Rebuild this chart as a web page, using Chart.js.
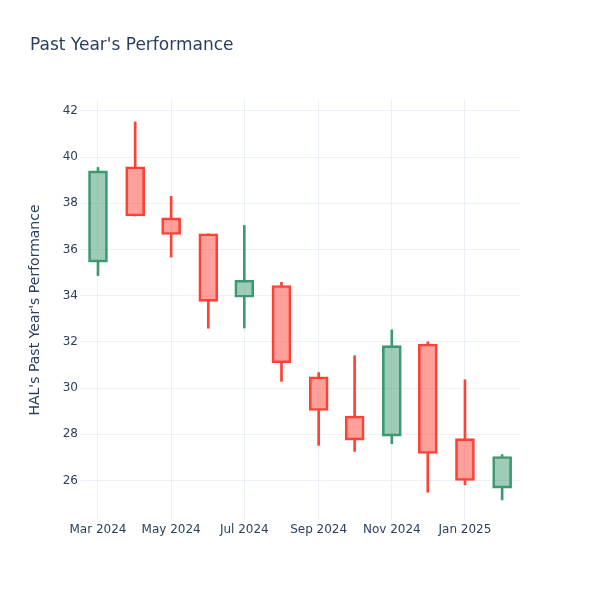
<!DOCTYPE html>
<html>
<head>
<meta charset="utf-8">
<script src="https://cdn.jsdelivr.net/npm/chart.js@4"></script>
<style>
  html, body { margin: 0; padding: 0; background: #fff; }
</style>
</head>
<body>
<canvas id="candleChart" width="600" height="600"></canvas>
<script>
var chartTitle = "Past Year's Performance";
var yTitle = "HAL's Past Year's Performance";

// monthly candles
var months = ['2024-03-01', '2024-04-01', '2024-05-01', '2024-06-01', '2024-07-01', '2024-08-01',
              '2024-09-01', '2024-10-01', '2024-11-01', '2024-12-01', '2025-01-01', '2025-02-01'];
var opens  = [35.45, 39.58, 37.37, 36.68, 33.93, 34.44, 30.49, 28.79, 27.92, 31.91, 27.81, 25.67];
var highs  = [39.55, 41.52, 38.30, 36.68, 37.04, 34.58, 30.67, 31.40, 32.52, 32.00, 30.36, 27.12];
var lows   = [34.87, 37.45, 35.67, 32.59, 32.60, 30.29, 27.52, 27.26, 27.59, 25.49, 25.81, 25.16];
var closes = [39.40, 37.45, 36.65, 33.75, 34.67, 31.09, 29.03, 27.75, 31.84, 27.17, 26.00, 27.04];

var xTickDates  = ['2024-03-01', '2024-05-01', '2024-07-01', '2024-09-01', '2024-11-01', '2025-01-01'];
var xTickLabels = ['Mar 2024', 'May 2024', 'Jul 2024', 'Sep 2024', 'Nov 2024', 'Jan 2025'];
var yTicks = [26, 28, 30, 32, 34, 36, 38, 40, 42];

var upLine = '#3D9970', upFill = 'rgba(61,153,112,0.5)';
var downLine = '#FF4136', downFill = 'rgba(255,65,54,0.5)';
var textColor = '#2a3f5f';
var gridColor = '#ebf0f8';
var fontFamily = '"DejaVu Sans", Verdana, sans-serif';

function dayOf(s) { return Date.parse(s) / 864e5; }
function isUp(i) { return closes[i] >= opens[i]; }

var bodies = months.map(function (m, i) {
    return {x: dayOf(m), y: [opens[i], closes[i]]};
});
var lowerWicks = months.map(function (m, i) {
    return {x: dayOf(m), y: [lows[i], Math.min(opens[i], closes[i])]};
});
var upperWicks = months.map(function (m, i) {
    return {x: dayOf(m), y: [Math.max(opens[i], closes[i]), highs[i]]};
});

var titlePlugin = {
    id: 'plotTitle',
    afterDraw: function (chart) {
        var ctx = chart.ctx;
        ctx.save();
        ctx.font = '17px ' + fontFamily;
        ctx.fillStyle = textColor;
        ctx.textBaseline = 'alphabetic';
        ctx.textAlign = 'left';
        ctx.fillText(chartTitle, 30, 50);
        ctx.restore();
    }
};

var lineColor = function (c) { return isUp(c.dataIndex) ? upLine : downLine; };
var fillColor = function (c) { return isUp(c.dataIndex) ? upFill : downFill; };

var candleChart = new Chart(document.getElementById('candleChart'), {
    type: 'bar',
    data: {
        datasets: [{
            label: 'body',
            data: bodies,
            backgroundColor: fillColor,
            borderColor: lineColor,
            borderWidth: 2,
            borderSkipped: false,
            barThickness: 19
        }, {
            label: 'upper',
            data: upperWicks,
            backgroundColor: lineColor,
            borderWidth: 0,
            barThickness: 2
        }, {
            label: 'lower',
            data: lowerWicks,
            backgroundColor: lineColor,
            borderWidth: 0,
            barThickness: 2
        }]
    },
    options: {
        responsive: false,
        animation: false,
        grouped: false,
        layout: {padding: {left: 0, top: 100, right: 80, bottom: 0}},
        plugins: {
            legend: {display: false},
            tooltip: {enabled: false},
            title: {display: false}
        },
        scales: {
            x: {
                type: 'linear',
                offset: false,
                min: dayOf(months[0]) - 15.0,
                max: dayOf(months[months.length - 1]) + 14.9,
                grid: {color: gridColor, lineWidth: 1, drawTicks: false, offset: false},
                border: {display: false},
                afterBuildTicks: function (scale) {
                    scale.ticks = xTickDates.map(function (d) { return {value: dayOf(d)}; });
                },
                ticks: {
                    autoSkip: false,
                    maxRotation: 0,
                    padding: 3,
                    color: textColor,
                    font: {family: fontFamily, size: 12},
                    callback: function (value, index) { return xTickLabels[index]; }
                },
                afterFit: function (scale) { scale.height = 80; }
            },
            y: {
                min: 24.29,
                max: 42.47,
                grid: {color: gridColor, lineWidth: 1, drawTicks: false},
                border: {display: false},
                afterBuildTicks: function (scale) {
                    scale.ticks = yTicks.map(function (v) { return {value: v}; });
                },
                ticks: {
                    padding: 2,
                    color: textColor,
                    font: {family: fontFamily, size: 12}
                },
                title: {
                    display: true,
                    text: yTitle,
                    color: textColor,
                    font: {family: fontFamily, size: 14},
                    padding: {top: 27, bottom: 0}
                },
                afterFit: function (scale) { scale.width = 80; }
            }
        }
    },
    plugins: [titlePlugin]
});
</script>
</body>
</html>
